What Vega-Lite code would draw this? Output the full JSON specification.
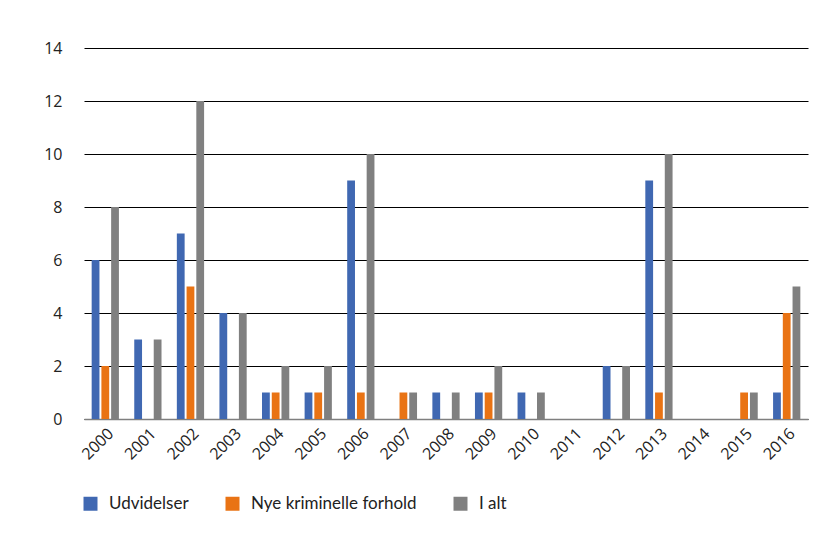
{
  "$schema": "https://vega.github.io/schema/vega-lite/v6.json",
  "width": 724,
  "height": 371,
  "autosize": {"type": "none"},
  "padding": {"left": 84, "top": 48, "right": 9, "bottom": 116},
  "background": "white",
  "config": {"view": {"stroke": null}},
  "data": {"values": [
    {"year": "2000", "serie": "Udvidelser", "v": 6},
    {"year": "2000", "serie": "Nye kriminelle forhold", "v": 2},
    {"year": "2000", "serie": "I alt", "v": 8},
    {"year": "2001", "serie": "Udvidelser", "v": 3},
    {"year": "2001", "serie": "Nye kriminelle forhold", "v": 0},
    {"year": "2001", "serie": "I alt", "v": 3},
    {"year": "2002", "serie": "Udvidelser", "v": 7},
    {"year": "2002", "serie": "Nye kriminelle forhold", "v": 5},
    {"year": "2002", "serie": "I alt", "v": 12},
    {"year": "2003", "serie": "Udvidelser", "v": 4},
    {"year": "2003", "serie": "Nye kriminelle forhold", "v": 0},
    {"year": "2003", "serie": "I alt", "v": 4},
    {"year": "2004", "serie": "Udvidelser", "v": 1},
    {"year": "2004", "serie": "Nye kriminelle forhold", "v": 1},
    {"year": "2004", "serie": "I alt", "v": 2},
    {"year": "2005", "serie": "Udvidelser", "v": 1},
    {"year": "2005", "serie": "Nye kriminelle forhold", "v": 1},
    {"year": "2005", "serie": "I alt", "v": 2},
    {"year": "2006", "serie": "Udvidelser", "v": 9},
    {"year": "2006", "serie": "Nye kriminelle forhold", "v": 1},
    {"year": "2006", "serie": "I alt", "v": 10},
    {"year": "2007", "serie": "Udvidelser", "v": 0},
    {"year": "2007", "serie": "Nye kriminelle forhold", "v": 1},
    {"year": "2007", "serie": "I alt", "v": 1},
    {"year": "2008", "serie": "Udvidelser", "v": 1},
    {"year": "2008", "serie": "Nye kriminelle forhold", "v": 0},
    {"year": "2008", "serie": "I alt", "v": 1},
    {"year": "2009", "serie": "Udvidelser", "v": 1},
    {"year": "2009", "serie": "Nye kriminelle forhold", "v": 1},
    {"year": "2009", "serie": "I alt", "v": 2},
    {"year": "2010", "serie": "Udvidelser", "v": 1},
    {"year": "2010", "serie": "Nye kriminelle forhold", "v": 0},
    {"year": "2010", "serie": "I alt", "v": 1},
    {"year": "2011", "serie": "Udvidelser", "v": 0},
    {"year": "2011", "serie": "Nye kriminelle forhold", "v": 0},
    {"year": "2011", "serie": "I alt", "v": 0},
    {"year": "2012", "serie": "Udvidelser", "v": 2},
    {"year": "2012", "serie": "Nye kriminelle forhold", "v": 0},
    {"year": "2012", "serie": "I alt", "v": 2},
    {"year": "2013", "serie": "Udvidelser", "v": 9},
    {"year": "2013", "serie": "Nye kriminelle forhold", "v": 1},
    {"year": "2013", "serie": "I alt", "v": 10},
    {"year": "2014", "serie": "Udvidelser", "v": 0},
    {"year": "2014", "serie": "Nye kriminelle forhold", "v": 0},
    {"year": "2014", "serie": "I alt", "v": 0},
    {"year": "2015", "serie": "Udvidelser", "v": 0},
    {"year": "2015", "serie": "Nye kriminelle forhold", "v": 1},
    {"year": "2015", "serie": "I alt", "v": 1},
    {"year": "2016", "serie": "Udvidelser", "v": 1},
    {"year": "2016", "serie": "Nye kriminelle forhold", "v": 4},
    {"year": "2016", "serie": "I alt", "v": 5}
  ]},
  "mark": {"type": "bar"},
  "encoding": {
    "x": {
      "field": "year", "type": "nominal", "title": null,
      "scale": {"paddingInner": 0.36, "paddingOuter": 0.18},
      "axis": {
        "labelAngle": -45, "labelFont": "Open Sans", "labelFontSize": 16,
        "labelColor": "#222", "ticks": false, "domainColor": "#7f7f7f",
        "domainWidth": 1.5, "labelPadding": 6, "labelAlign": "right", "labelBaseline": "top"
      }
    },
    "y": {
      "field": "v", "type": "quantitative", "title": null,
      "scale": {"domain": [0, 14]},
      "axis": {
        "values": [0, 2, 4, 6, 8, 10, 12, 14], "domain": false, "ticks": false,
        "labelFont": "Open Sans", "labelFontSize": 16, "labelColor": "#222",
        "labelPadding": 22, "gridColor": "#000", "gridWidth": 1, "gridOpacity": 1
      }
    },
    "xOffset": {
      "field": "serie", "type": "nominal",
      "sort": ["Udvidelser", "Nye kriminelle forhold", "I alt"],
      "scale": {"paddingInner": 0.2}
    },
    "color": {
      "field": "serie", "type": "nominal", "title": null,
      "sort": ["Udvidelser", "Nye kriminelle forhold", "I alt"],
      "scale": {"domain": ["Udvidelser", "Nye kriminelle forhold", "I alt"], "range": ["#4068B2", "#E97314", "#808080"]},
      "legend": {
        "orient": "none", "legendX": -2, "legendY": 447, "direction": "horizontal",
        "symbolType": "square", "symbolSize": 196, "symbolOpacity": 1,
        "labelFont": "Lato", "labelFontSize": 17, "labelColor": "#222", "labelLimit": 400,
        "labelOffset": 10, "columnPadding": 35, "symbolStrokeWidth": 0
      }
    }
  }
}
